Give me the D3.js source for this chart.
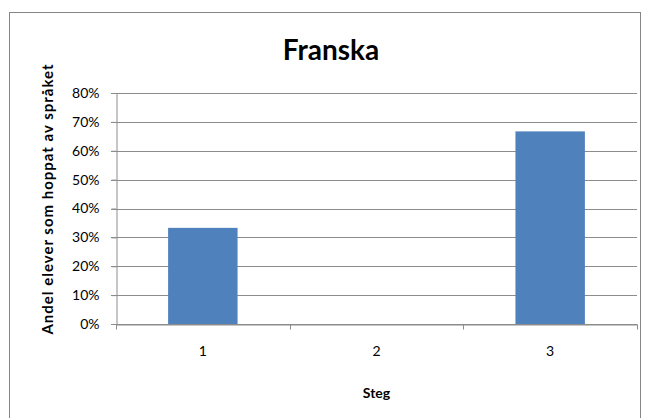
<!DOCTYPE html>
<html><head><meta charset="utf-8">
<script src="https://cdn.jsdelivr.net/npm/d3@7/dist/d3.min.js"></script>
<style>body{margin:0;background:#fff}svg{display:block}</style>
</head><body>
<script>
const categories = ["1", "2", "3"];
const values = [0.333, 0, 0.667];
const yTicks = [0, 0.1, 0.2, 0.3, 0.4, 0.5, 0.6, 0.7, 0.8];
const title = "Franska";
const xTitle = "Steg";
const yTitle = "Andel elever som hoppat av språket";

const W = 645, H = 418;
const m = {left: 116, right: 8, top: 93, bottom: 94};
const svg = d3.select("body").append("svg").attr("width", W).attr("height", H);
const font = "Lato, 'Open Sans', sans-serif";

svg.append("rect").attr("x", 9.5).attr("y", 12.5).attr("width", 631).attr("height", 420)
  .attr("fill", "#fff").attr("stroke", "#868686");

const x = d3.scaleBand().domain(categories).range([m.left, W - m.right]).paddingInner(0).paddingOuter(0);
const y = d3.scaleLinear().domain([0, 0.8]).range([H - m.bottom, m.top]);

// gridlines
svg.append("g").selectAll("line").data(yTicks).join("line")
  .attr("x1", m.left - 5).attr("x2", W - m.right)
  .attr("y1", d => Math.round(y(d)) + 0.5).attr("y2", d => Math.round(y(d)) + 0.5)
  .attr("stroke", "#8c8c8c").attr("stroke-width", 1);

// bars
const bw = x.bandwidth() / 2.5;
svg.append("g").selectAll("rect").data(values).join("rect")
  .attr("x", (d, i) => x(categories[i]) + (x.bandwidth() - bw) / 2)
  .attr("width", bw)
  .attr("y", d => y(d))
  .attr("height", d => y(0) - y(d))
  .attr("fill", "#4F81BD");

// y axis
const yAxis = svg.append("g").attr("transform", `translate(${m.left + 0.5},0)`)
  .call(d3.axisLeft(y).tickValues(yTicks).tickFormat(d3.format(".0%")).tickSize(5).tickSizeOuter(0));
yAxis.select(".domain").attr("stroke", "#8c8c8c");
yAxis.selectAll(".tick line").attr("stroke", "#8c8c8c");
yAxis.selectAll("text").attr("font-family", font).attr("font-size", 14).attr("fill", "#000").attr("x", -17);

// x axis
const xAxis = svg.append("g").attr("transform", `translate(0,${Math.round(y(0)) + 0.5})`)
  .call(d3.axisBottom(x).tickSize(0).tickSizeOuter(0));
xAxis.select(".domain").attr("stroke", "#8c8c8c");
xAxis.selectAll("text").attr("font-family", font).attr("font-size", 14).attr("fill", "#000").attr("y", 22).attr("dy", "0.71em");
// boundary ticks
const bounds = categories.map(c => x(c)).concat([x(categories[categories.length - 1]) + x.bandwidth()]);
xAxis.selectAll(".btick").data(bounds).join("line").attr("class", "btick")
  .attr("x1", d => Math.round(d) + 0.5).attr("x2", d => Math.round(d) + 0.5)
  .attr("y1", 0).attr("y2", 5).attr("stroke", "#8c8c8c");

// titles
svg.append("text").attr("x", 331).attr("y", 60).attr("text-anchor", "middle")
  .attr("font-family", font).attr("font-weight", "bold").attr("font-size", 28).text(title);
svg.append("text").attr("x", (m.left + W - m.right) / 2).attr("y", 398).attr("text-anchor", "middle")
  .attr("font-family", font).attr("font-weight", "bold").attr("font-size", 14).text(xTitle);
svg.append("text").attr("transform", `translate(53,199) rotate(-90)`)
  .attr("text-anchor", "middle").attr("font-family", font).attr("font-weight", "bold").attr("font-size", 15)
  .attr("letter-spacing", 1).text(yTitle);
</script>
</body></html>
